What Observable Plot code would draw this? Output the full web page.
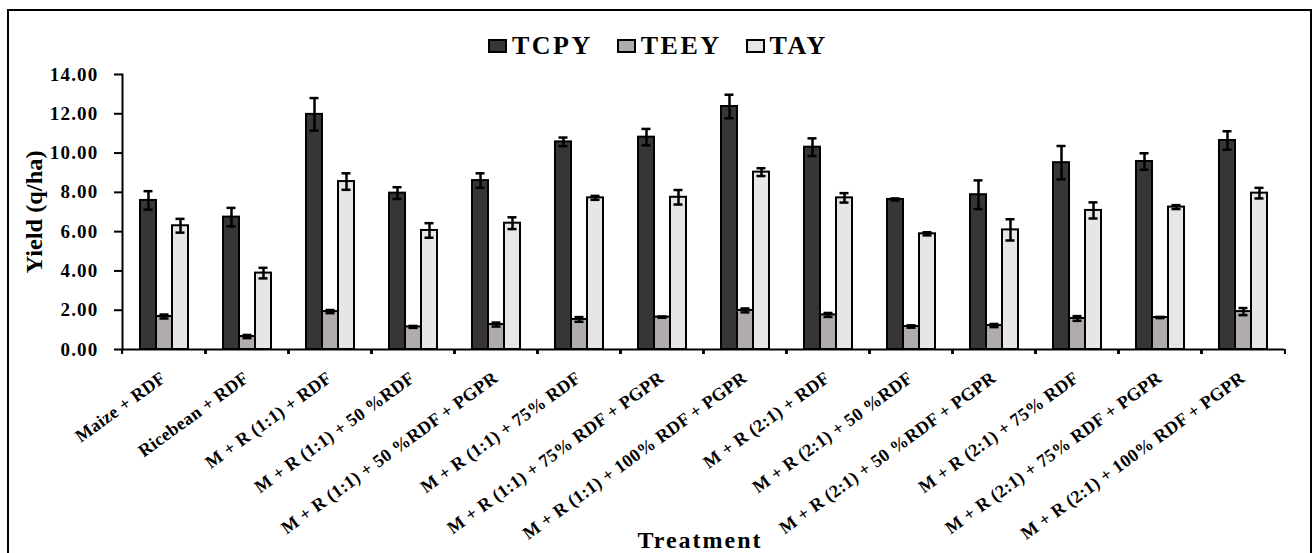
<!DOCTYPE html>
<html>
<head>
<meta charset="utf-8">
<script src="https://cdn.jsdelivr.net/npm/d3@7"></script>
<script src="https://cdn.jsdelivr.net/npm/@observablehq/plot@0.6"></script>
<style>
  html, body { margin: 0; padding: 0; background: #fff; overflow: hidden; width: 1314px; height: 553px; }
  #wrap { position: relative; width: 1314px; height: 553px; font-family: "Liberation Serif", "Times New Roman", serif; font-weight: bold; color: #000; }
  #border { position: absolute; left: 7px; top: 9px; width: 1301px; height: 620px; border: 2.5px solid #000; box-sizing: content-box; pointer-events: none; }
  #chart { position: absolute; left: 0; top: 0; }
  #legend { position: absolute; left: 488px; top: 31px; height: 30px; display: flex; align-items: center; font-size: 26px; letter-spacing: 2.5px; }
  #legend .item { display: flex; align-items: center; margin-right: 24px; }
  #legend .sw { width: 15px; height: 10px; border: 2px solid #000; margin-right: 5px; }
  #ylabel { position: absolute; left: 0; top: 0; overflow: visible; }
  #xlabel { position: absolute; left: 700px; top: 540px; transform: translate(-50%, -50%); font-size: 24px; letter-spacing: 2px; white-space: nowrap; line-height: 1; }
</style>
</head>
<body>
<div id="wrap">
  <div id="chart"></div>
  <div id="legend"></div>
  <svg id="ylabel" width="70" height="420">
    <text transform="translate(42,212) rotate(-90)" text-anchor="middle" font-family="'Liberation Serif', 'Times New Roman', serif" font-weight="bold" font-size="24" textLength="123" lengthAdjust="spacingAndGlyphs">Yield (q/ha)</text>
  </svg>
  <div id="xlabel">Treatment</div>
  <div id="border"></div>
</div>
<script>
const treatments = [
  "Maize + RDF",
  "Ricebean + RDF",
  "M + R (1:1) + RDF",
  "M + R (1:1) + 50 %RDF",
  "M + R (1:1) + 50 %RDF + PGPR",
  "M + R (1:1) + 75% RDF",
  "M + R (1:1) + 75% RDF + PGPR",
  "M + R (1:1) + 100% RDF + PGPR",
  "M + R (2:1) + RDF",
  "M + R (2:1) + 50 %RDF",
  "M + R (2:1) + 50 %RDF + PGPR",
  "M + R (2:1) + 75% RDF",
  "M + R (2:1) + 75% RDF + PGPR",
  "M + R (2:1) + 100% RDF + PGPR"
];
const seriesNames = ["TCPY", "TEEY", "TAY"];
const seriesColors = ["#383635", "#b0acab", "#e6e6e6"];

const tcpy    = [7.59, 6.74, 11.97, 7.96, 8.60, 10.57, 10.81, 12.37, 10.30, 7.64, 7.88, 9.51, 9.57, 10.64];
const tcpyErr = [0.47, 0.47, 0.83, 0.30, 0.37, 0.22, 0.42, 0.60, 0.45, 0.05, 0.73, 0.85, 0.42, 0.47];
const teey    = [1.68, 0.66, 1.93, 1.15, 1.27, 1.53, 1.65, 1.99, 1.76, 1.17, 1.22, 1.58, 1.63, 1.93];
const teeyErr = [0.10, 0.08, 0.08, 0.05, 0.10, 0.12, 0.03, 0.10, 0.10, 0.06, 0.08, 0.12, 0.03, 0.18];
const tay     = [6.30, 3.89, 8.55, 6.06, 6.43, 7.72, 7.75, 9.03, 7.72, 5.89, 6.09, 7.08, 7.25, 7.96];
const tayErr  = [0.35, 0.27, 0.42, 0.37, 0.30, 0.10, 0.37, 0.20, 0.24, 0.08, 0.54, 0.41, 0.10, 0.27];

const yTicks = [0, 2, 4, 6, 8, 10, 12, 14];

const values = {TCPY: tcpy, TEEY: teey, TAY: tay};
const errors = {TCPY: tcpyErr, TEEY: teeyErr, TAY: tayErr};
const data = treatments.flatMap((t, i) => seriesNames.map(s => ({t, s, v: values[s][i], e: errors[s][i]})));

const W = 1314, H = 553, mL = 116, mR = 24, mT = 74, mB = 204;
const bw = (W - mL - mR) / treatments.length;

const plot = Plot.plot({
  width: W, height: H,
  marginLeft: mL, marginRight: mR, marginTop: mT, marginBottom: mB,
  style: {fontFamily: "'Liberation Serif', 'Times New Roman', serif", fontWeight: "bold", color: "#000", background: "transparent", overflow: "visible"},
  fx: {domain: treatments, padding: 0, label: null},
  x: {domain: seriesNames, paddingInner: 0, paddingOuter: 1.0, axis: null},
  y: {domain: [0, 14], label: null},
  color: {domain: seriesNames, range: seriesColors},
  marks: [
    Plot.barY(data, {fx: "t", x: "s", y: "v", fill: "s", stroke: "#000", strokeWidth: 2}),
    Plot.ruleX(data, {fx: "t", x: "s", y1: d => d.v - d.e, y2: d => d.v + d.e, stroke: "#000", strokeWidth: 2.5}),
    Plot.tickY(data, {fx: "t", x: "s", y: d => d.v + d.e, stroke: "#000", strokeWidth: 2.5, insetLeft: 3.5, insetRight: 3.5}),
    Plot.tickY(data, {fx: "t", x: "s", y: d => d.v - d.e, stroke: "#000", strokeWidth: 2.5, insetLeft: 3.5, insetRight: 3.5}),
    Plot.ruleY([0], {stroke: "#000", strokeWidth: 2}),
    Plot.frame({anchor: "left", facetAnchor: "left", stroke: "#000", strokeWidth: 2}),
    Plot.axisY({ticks: yTicks, tickFormat: d => d.toFixed(2), tickSize: 8, tickPadding: 16, fontSize: 19, strokeWidth: 2, label: null}),
    Plot.axisFx({anchor: "bottom", tickFormat: () => "", tickSize: 5, dx: -bw / 2, strokeWidth: 2, label: null}),
    Plot.axisFx({anchor: "bottom", tickFormat: () => "", tickSize: 5, dx: bw / 2, strokeWidth: 2, label: null}),
    Plot.text(treatments, {fx: d => d, text: d => d, frameAnchor: "bottom", rotate: -36, textAnchor: "end", lineAnchor: "bottom", dx: 3, dy: 31, fontSize: 18, fontWeight: "bold"})
  ]
});
document.getElementById("chart").appendChild(plot);

d3.select(plot).selectAll('g[aria-label="y-axis tick label"] text').style("letter-spacing", "1.2px");
d3.select(plot).selectAll('g[aria-label="text"] text').style("letter-spacing", "0.3px");

const legend = d3.select("#legend");
seriesNames.forEach((s, i) => {
  const item = legend.append("div").attr("class", "item");
  item.append("div").attr("class", "sw").style("background", seriesColors[i]);
  item.append("span").text(s);
});
</script>
</body>
</html>
